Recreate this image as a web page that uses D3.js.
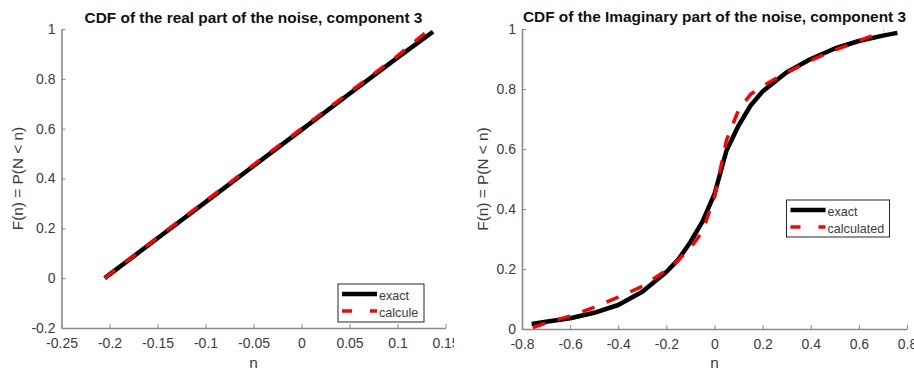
<!DOCTYPE html>
<html>
<head>
<meta charset="utf-8">
<script src="https://cdn.jsdelivr.net/npm/d3@7"></script>
<style>
  html, body { margin: 0; padding: 0; background: #fff; }
  svg { display: block; font-family: "Liberation Sans", Arial, Helvetica, sans-serif; }
  .tick text { fill: #3c3c3c; font-size: 14px; }
  .domain, .tick line { stroke: #8a8a8a; }
</style>
</head>
<body>
<svg id="fig" width="914" height="371"></svg>
<script>
// ---- Real part (component 3): empirical vs. uniform CDF ----
const realN      = [-0.205, -0.15, -0.1, -0.05, 0, 0.05, 0.1, 0.137];
const realExact  = [0, 0.160, 0.305, 0.450, 0.595, 0.740, 0.885, 0.989];
const realCalcN  = [-0.205, -0.15, -0.1, -0.05, 0, 0.05, 0.1, 0.134];
const realCalc   = [0, 0.163, 0.309, 0.455, 0.600, 0.746, 0.892, 1.0];
const realXTicks = [-0.25, -0.2, -0.15, -0.1, -0.05, 0, 0.05, 0.1, 0.15];
const realYTicks = [-0.2, 0, 0.2, 0.4, 0.6, 0.8, 1];

// ---- Imaginary part (component 3) ----
const imagN      = [-0.76, -0.7, -0.6, -0.5, -0.4, -0.3, -0.2, -0.15, -0.1, -0.05, 0, 0.05, 0.1, 0.15, 0.2, 0.3, 0.4, 0.5, 0.6, 0.7, 0.76];
const imagExact  = [0.017, 0.024, 0.036, 0.054, 0.080, 0.124, 0.190, 0.232, 0.290, 0.358, 0.450, 0.595, 0.678, 0.745, 0.792, 0.856, 0.900, 0.935, 0.960, 0.978, 0.987];
const imagCalcN  = [-0.755, -0.7, -0.6, -0.5, -0.4, -0.3, -0.2, -0.15, -0.1, -0.05, 0, 0.05, 0.1, 0.15, 0.2, 0.3, 0.4, 0.5, 0.6, 0.705];
const imagCalc   = [0.005, 0.020, 0.043, 0.072, 0.106, 0.142, 0.196, 0.230, 0.270, 0.325, 0.440, 0.630, 0.730, 0.782, 0.810, 0.855, 0.895, 0.930, 0.960, 0.993];
const imagXTicks = [-0.8, -0.6, -0.4, -0.2, 0, 0.2, 0.4, 0.6, 0.8];
const imagYTicks = [0, 0.2, 0.4, 0.6, 0.8, 1];

const yLabel = "F(n) = P(N < n)";
const xLabel = "n";

const svg = d3.select("#fig");

function fmt(v) {
  if (Math.abs(v) < 1e-9) return "0";
  return String(+v.toFixed(2));
}

function panel(opt) {
  const g = svg.append("g");
  if (opt.clipW) {
    const id = "clip" + opt.key;
    svg.append("defs").append("clipPath").attr("id", id)
      .append("rect").attr("x", opt.clipX).attr("y", 0).attr("width", opt.clipW).attr("height", 371);
    g.attr("clip-path", `url(#${id})`);
  }
  const x = d3.scaleLinear().domain(opt.xDomain).range(opt.xRange);
  const y = d3.scaleLinear().domain(opt.yDomain).range(opt.yRange);

  // axes (ticks point inward)
  const gx = g.append("g").attr("transform", `translate(0,${opt.yRange[0]})`)
    .call(d3.axisBottom(x).tickValues(opt.xTicks).tickFormat(fmt)
      .tickSizeInner(-4).tickSizeOuter(0).tickPadding(10));
  const gy = g.append("g").attr("transform", `translate(${opt.xRange[0]},0)`)
    .call(d3.axisLeft(y).tickValues(opt.yTicks).tickFormat(fmt)
      .tickSizeInner(-4).tickSizeOuter(0).tickPadding(6));
  [gx, gy].forEach(a => {
    a.select(".domain").attr("stroke-width", 1.6);
    a.selectAll(".tick line").attr("stroke-width", 1);
  });

  // curves
  const line = d3.line().x(d => x(d[0])).y(d => y(d[1]));
  g.append("path").datum(opt.exactN.map((v, i) => [v, opt.exact[i]]))
    .attr("d", line).attr("fill", "none").attr("stroke", "#000")
    .attr("stroke-width", 4.5).attr("stroke-linejoin", "round");
  g.append("path").datum(opt.calcN.map((v, i) => [v, opt.calc[i]]))
    .attr("d", line).attr("fill", "none").attr("stroke", "#ff0000")
    .attr("stroke-width", 3.5).attr("stroke-dasharray", "13,13");

  // title and axis labels
  const cx = (opt.xRange[0] + opt.xRange[1]) / 2;
  const cy = (opt.yRange[0] + opt.yRange[1]) / 2;
  g.append("text").attr("x", cx).attr("y", opt.titleY).attr("text-anchor", "middle")
    .attr("font-weight", "bold").attr("font-size", 15.4).attr("fill", "#111")
    .text(opt.title);
  g.append("text").attr("x", cx).attr("y", 368).attr("text-anchor", "middle")
    .attr("font-size", 15.4).attr("fill", "#3c3c3c").text(xLabel);
  g.append("text").attr("transform", `translate(${opt.yLabelX},${cy}) rotate(-90)`)
    .attr("text-anchor", "middle").attr("font-size", 15.4).attr("fill", "#3c3c3c").text(yLabel);

  // legend
  const L = opt.legend;
  const lg = g.append("g").attr("transform", `translate(${L.x},${L.y})`);
  lg.append("rect").attr("width", L.w).attr("height", L.h)
    .attr("fill", "#fff").attr("stroke", "#262626").attr("stroke-width", 1);
  lg.append("line").attr("x1", 4).attr("x2", 39).attr("y1", 10).attr("y2", 10)
    .attr("stroke", "#000").attr("stroke-width", 4.5);
  lg.append("line").attr("x1", 4).attr("x2", 39).attr("y1", 27).attr("y2", 27)
    .attr("stroke", "#ff0000").attr("stroke-width", 3.5).attr("stroke-dasharray", "10,18");
  lg.append("text").attr("x", 41).attr("y", 16).attr("font-size", 12.6).attr("fill", "#3c3c3c").text("exact");
  lg.append("text").attr("x", 41).attr("y", 33).attr("font-size", 12.6).attr("fill", "#3c3c3c").text(L.calcName);
}

panel({
  key: "re", clipX: 0, clipW: 454,
  xDomain: [-0.25, 0.15], xRange: [61.5, 445.5],
  yDomain: [-0.2, 1], yRange: [328, 29],
  xTicks: realXTicks, yTicks: realYTicks,
  exactN: realN, exact: realExact, calcN: realCalcN, calc: realCalc,
  title: "CDF of the real part of the noise, component 3", titleY: 23,
  yLabelX: 23,
  legend: { x: 338, y: 284, w: 86, h: 38, calcName: "calcule" }
});

panel({
  key: "im",
  xDomain: [-0.8, 0.8], xRange: [522, 907],
  yDomain: [0, 1], yRange: [329, 29],
  xTicks: imagXTicks, yTicks: imagYTicks,
  exactN: imagN, exact: imagExact, calcN: imagCalcN, calc: imagCalc,
  title: "CDF of the Imaginary part of the noise, component 3", titleY: 22,
  yLabelX: 488,
  legend: { x: 786.5, y: 200, w: 103, h: 37, calcName: "calculated" }
});
</script>
</body>
</html>
